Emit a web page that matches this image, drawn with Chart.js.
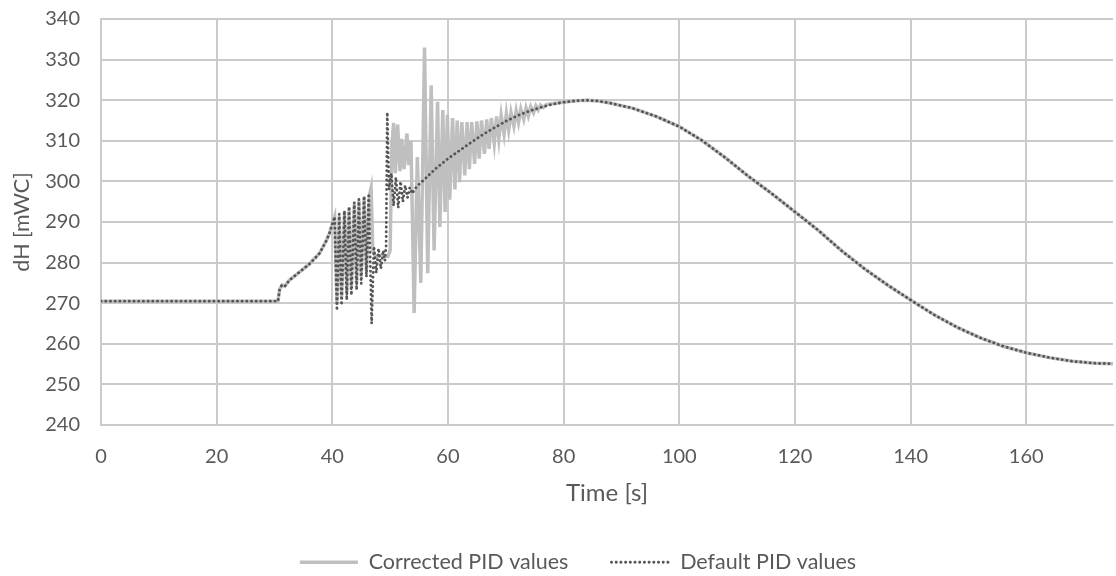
<!DOCTYPE html>
<html>
<head>
<meta charset="utf-8">
<title>dH over time</title>
<script src="https://cdn.jsdelivr.net/npm/chart.js@4.4.1/dist/chart.umd.min.js"></script>
<style>
  html, body { margin: 0; padding: 0; background: #fff; }
  #wrap { width: 1116px; height: 576px; position: relative; }
</style>
</head>
<body>
<div id="wrap"><canvas id="pidChart"></canvas></div>
<script>
// Axis ranges (time in s, head difference in mWC)
const timeMax = 175;
const timeStep = 20;
const dhMin = 240;
const dhMax = 340;
const dhStep = 10;

// Series: [time, dH] pairs
const correctedPID = [
  [0, 270.5], [30.6, 270.5], [30.9, 273.5], [31.3, 274.5], [31.8, 274.2], [32.6, 275.7],
  [34, 277.3], [36, 279.6], [37.8, 282.3], [39, 285.5], [39.5, 287.2], [40, 289.5], [40.4, 291.3],
  [40.8, 270], [41.2, 291.5], [41.6, 271.5], [42.1, 292.5], [42.5, 272.5], [42.9, 293.5],
  [43.3, 273.8], [43.8, 294.5], [44.2, 275], [44.6, 295.3], [45.0, 276.5], [45.5, 296],
  [45.9, 278], [46.4, 296.5], [46.7, 298.4], [47.0, 283], [47.5, 281.3], [48.5, 281.8],
  [49.6, 281.5], [50.0, 283], [50.3, 309], [50.6, 314.4], [50.9, 302], [51.3, 314],
  [51.7, 302.5], [52.0, 310.5], [52.4, 303], [52.9, 311.8], [53.2, 304], [53.6, 310],
  [54.15, 267.6], [54.7, 306], [55.3, 275], [55.95, 333], [56.5, 277.4], [57.1, 323.7],
  [57.6, 283], [58.2, 319.6], [58.6, 288.8], [59.1, 317.6], [59.5, 292.5], [59.9, 316.4],
  [60.3, 295.5], [60.8, 315.6], [61.2, 298], [61.6, 315], [62.0, 299.8], [62.4, 314.6],
  [62.9, 301.5], [63.3, 314.6], [63.7, 303], [64.1, 314.6], [64.6, 304.3], [65.0, 314.8],
  [65.4, 305.6], [65.8, 315], [66.3, 306.8], [66.7, 315.3], [67.1, 308], [67.5, 315.6],
  [68.0, 309.4], [68.4, 316], [68.8, 310.5], [69.2, 316.3], [69.7, 311.6], [70.1, 316.7],
  [70.5, 312.6], [70.9, 317], [71.4, 313.6], [71.8, 317.4], [72.2, 314.5], [72.6, 317.8],
  [73.1, 315.3], [73.5, 318.1], [73.9, 316.1], [74.3, 318.4], [74.8, 316.9], [75.2, 318.6],
  [75.6, 317.6], [76.0, 318.8], [76.5, 318.2], [77.0, 318.9], [78, 319.1], [80, 319.5],
  [82, 319.85], [84, 320], [86, 319.8], [88, 319.3], [92, 318], [96, 316], [100, 313.5],
  [104, 310], [108, 305.8], [112, 301.2], [116, 297], [120, 292.5], [124, 288], [128, 283],
  [132, 278.5], [136, 274.5], [140, 270.8], [144, 267.2], [148, 264.1], [152, 261.5],
  [156, 259.4], [160, 257.8], [164, 256.6], [168, 255.7], [172, 255.2], [175, 255.1]
];

const defaultPID = [
  [0, 270.5], [30.6, 270.5], [30.9, 273.5], [31.3, 274.5], [31.8, 274.2], [32.6, 275.7],
  [34, 277.3], [36, 279.6], [37.8, 282.3], [39, 285.5], [39.5, 287.2], [40, 289.5], [40.4, 291.3],
  [40.8, 268.2], [41.2, 292], [41.6, 269.5], [42.1, 292.8], [42.5, 270.8], [42.9, 293.8],
  [43.3, 272], [43.8, 294.8], [44.2, 273.3], [44.6, 295.6], [45.0, 274.8], [45.5, 296.4],
  [45.9, 276.5], [46.3, 297], [46.8, 265], [47.2, 284], [47.6, 277.5], [48.0, 283.5],
  [48.4, 278.5], [48.8, 283], [49.1, 280.5], [49.3, 284], [49.5, 317], [49.8, 298],
  [50.2, 302], [50.6, 294], [51.0, 301], [51.4, 293.5], [51.8, 300], [52.2, 295],
  [52.6, 299], [53.0, 296], [53.4, 298.5], [53.8, 297], [54.3, 298.2], [55, 299.3],
  [56, 300.6], [58, 303.3], [60, 305.6], [62, 307.6], [64, 309.6], [66, 311.5], [68, 313.2],
  [70, 314.8], [72, 316.2], [74, 317.3], [76, 318.2], [78, 319], [80, 319.5], [82, 319.85],
  [84, 320], [86, 319.8], [88, 319.3], [92, 318], [96, 316], [100, 313.5], [104, 310],
  [108, 305.8], [112, 301.2], [116, 297], [120, 292.5], [124, 288], [128, 283], [132, 278.5],
  [136, 274.5], [140, 270.8], [144, 267.2], [148, 264.1], [152, 261.5], [156, 259.4],
  [160, 257.8], [164, 256.6], [168, 255.7], [172, 255.2], [175, 255.1]
];

const toPoints = pairs => pairs.map(p => ({ x: p[0], y: p[1] }));

const textColor = '#595959';
const gridColor = '#cbcbcb';

Chart.defaults.font.family = 'Lato, "Open Sans", sans-serif';
Chart.defaults.color = textColor;

// legend samples should use the dataset line style, not the point style
function lineLegendLabels(chart) {
  const items = Chart.defaults.plugins.legend.labels.generateLabels(chart);
  items.forEach(item => {
    const ds = chart.data.datasets[item.datasetIndex];
    item.lineDash = ds.borderDash || [];
    item.lineCap = ds.borderCapStyle || 'butt';
    item.lineWidth = ds.borderWidth;
    item.strokeStyle = ds.borderColor;
  });
  return items;
}

const ctx = document.getElementById('pidChart').getContext('2d');

new Chart(ctx, {
  type: 'line',
  data: {
    datasets: [
      {
        label: 'Corrected PID values',
        data: toPoints(correctedPID),
        borderColor: '#bfbfbf',
        backgroundColor: '#bfbfbf',
        borderWidth: 3.5,
        pointRadius: 0,
        fill: false,
        order: 1
      },
      {
        label: 'Default PID values',
        data: toPoints(defaultPID),
        borderColor: '#555555',
        backgroundColor: '#555555',
        borderWidth: 2.8,
        borderDash: [0.2, 4.5],
        borderCapStyle: 'round',
        pointRadius: 0,
        fill: false,
        order: 0
      }
    ]
  },
  options: {
    responsive: true,
    maintainAspectRatio: false,
    animation: false,
    layout: {
      padding: { left: 43, right: 3, top: 19, bottom: -7 }
    },
    plugins: {
      tooltip: { enabled: false },
      legend: {
        position: 'bottom',
        labels: {
          usePointStyle: true,
          pointStyle: 'line',
          pointStyleWidth: 58,
          padding: 43,
          color: textColor,
          font: { size: 21.5 },
          generateLabels: lineLegendLabels,
          sort: (a, b) => a.datasetIndex - b.datasetIndex
        }
      }
    },
    scales: {
      x: {
        type: 'linear',
        min: 0,
        max: timeMax,
        afterFit: scale => { scale.height = 83.5; },
        afterBuildTicks: scale => {
          scale.ticks = scale.ticks.filter(t => t.value % timeStep === 0);
        },
        ticks: {
          stepSize: timeStep,
          padding: 20,
          color: textColor,
          font: { size: 20 },
          maxRotation: 0
        },
        grid: { color: gridColor, lineWidth: 2, drawTicks: false },
        border: { color: gridColor, width: 2 },
        title: {
          display: true,
          text: 'Time [s]',
          color: textColor,
          font: { size: 24 },
          padding: { top: 0, bottom: 1 }
        }
      },
      y: {
        min: dhMin,
        max: dhMax,
        afterFit: scale => {
          scale.width = 58;
          scale.paddingTop = 0;
          scale.paddingBottom = 0;
        },
        ticks: {
          stepSize: dhStep,
          padding: 21,
          color: textColor,
          font: { size: 20 }
        },
        grid: { color: gridColor, lineWidth: 2, drawTicks: false },
        border: { color: gridColor, width: 2 },
        title: {
          display: true,
          text: 'dH [mWC]',
          color: textColor,
          font: { size: 21.5 },
          padding: { top: -34, bottom: 0 }
        }
      }
    }
  }
});
</script>
</body>
</html>
